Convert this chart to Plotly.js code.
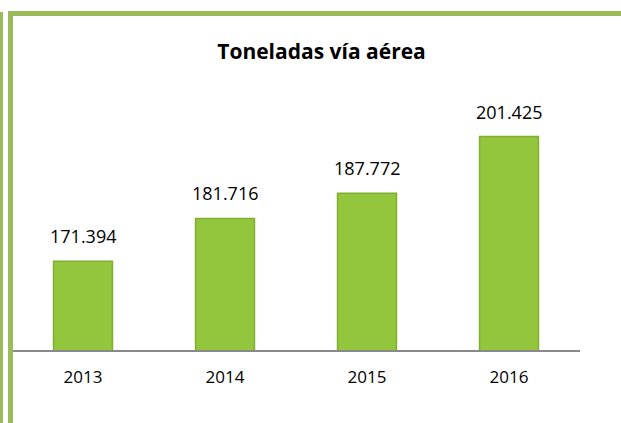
<!DOCTYPE html>
<html>
<head>
<meta charset="utf-8">
<script src="https://cdn.plot.ly/plotly-3.0.1.min.js"></script>
<style>html,body{margin:0;padding:0;background:#fff;}#chart{width:621px;height:423px;}</style>
</head>
<body>
<div id="chart"></div>
<script>
const years = ['2013', '2014', '2015', '2016'];
const tons = [171.394, 181.716, 187.772, 201.425];
const labels = ['171.394', '181.716', '187.772', '201.425'];

const W = 621, H = 423;
const mL = 12, mR = 41, mT = 101, mB = 73;
const pw = W - mL - mR, ph = H - mT - mB;
const px = v => (v - mL) / pw;
const py = v => (H - mB - v) / ph;
const green = '#9BBB59';
const FONT = 'Open Sans, Liberation Sans, sans-serif';

const shapes = [
  {type:'rect', xref:'paper', yref:'paper', x0:px(0), x1:px(3), y0:py(423), y1:py(12), fillcolor:green, line:{width:0}, layer:'above'},
  {type:'rect', xref:'paper', yref:'paper', x0:px(8), x1:px(13), y0:py(423), y1:py(11), fillcolor:green, line:{width:0}, layer:'above'},
  {type:'rect', xref:'paper', yref:'paper', x0:px(8), x1:px(621), y0:py(16), y1:py(11), fillcolor:green, line:{width:0}, layer:'above'}
];

const annotations = years.map((y, i) => ({
  x: i, y: tons[i], xref:'x', yref:'y', text: labels[i], showarrow:false,
  yanchor:'bottom', yshift:11, font:{family:FONT, size:18, color:'#000'}
}));

Plotly.newPlot('chart', [{
  type:'bar', x: years, y: tons,
  marker:{color:'#93C63C', line:{color:'#80AE30', width:1.5}},
  width:0.415, hoverinfo:'none'
}], {
  width:W, height:H,
  margin:{l:mL, r:mR, t:mT, b:mB, pad:0},
  paper_bgcolor:'#fff', plot_bgcolor:'#fff',
  title:{text:'<b>Toneladas vía aérea</b>', x:(213+430)/2/W, xanchor:'center', y:1-52/H, yanchor:'middle', yref:'container',
    font:{family:FONT, size:21, color:'#000'}},
  xaxis:{type:'category', categoryorder:'array', categoryarray:years, range:[-0.5,3.5], autorange:false,
    showline:true, linecolor:'#898989', linewidth:2, ticks:'', showgrid:false, zeroline:false,
    tickfont:{family:FONT, size:17, color:'#000'}, ticklabelstandoff:11},
  yaxis:{range:[150,210], autorange:false, visible:false, showgrid:false, zeroline:false},
  showlegend:false,
  shapes: shapes,
  annotations: annotations
}, {displayModeBar:false, staticPlot:true});
</script>
</body>
</html>
